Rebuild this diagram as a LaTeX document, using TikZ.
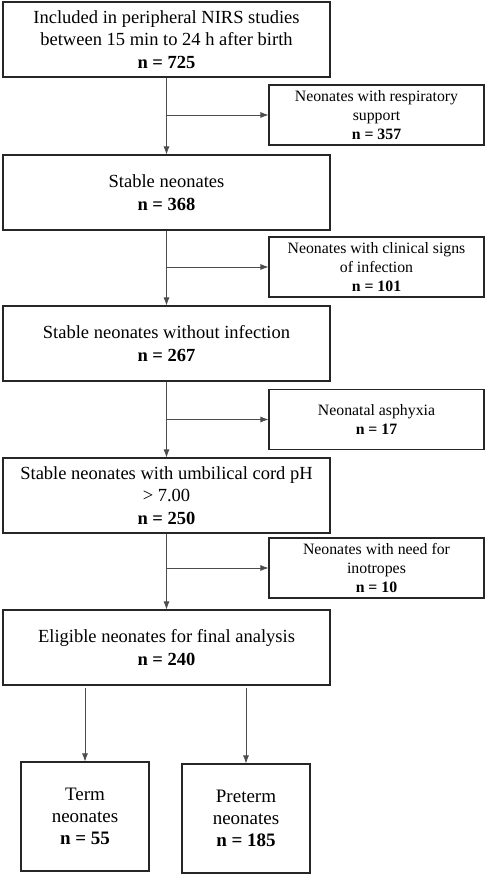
\documentclass[tikz,border=0pt]{standalone}
\usepackage{fontspec}
\setmainfont{Liberation Serif}
\usetikzlibrary{arrows.meta}
\begin{document}
\begin{tikzpicture}[x=1pt,y=-1pt,
  mainbox/.style={draw=black!85, line width=1.1pt, inner sep=0pt, align=center,
    minimum width=327pt, minimum height=75pt, font=\fontsize{18.5}{22.5}\selectfont},
  sidebox/.style={draw=black!85, line width=1.1pt, inner sep=0pt, align=center,
    minimum width=215pt, minimum height=60pt, font=\fontsize{15.8}{19}\selectfont},
  endbox/.style={draw=black!85, line width=1.1pt, inner sep=0pt, align=center,
    minimum width=128pt, minimum height=109pt, font=\fontsize{19}{22}\selectfont},
  flow/.style={draw=black!70, line width=0.8pt, -{Latex[length=8pt,width=6pt]}}
]
\useasboundingbox (0,0) rectangle (486,875);
\node[mainbox] (b1) at (166.5,39.5) {Included in peripheral NIRS studies\\between 15 min to 24 h after birth\\\textbf{n = 725}};
\node[mainbox] (b2) at (166.5,192.5) {Stable neonates\\\textbf{n = 368}};
\node[mainbox] (b3) at (166.5,343.5) {Stable neonates without infection\\\textbf{n = 267}};
\node[mainbox] (b4) at (166.5,495.5) {Stable neonates with umbilical cord pH\\> 7.00\\\textbf{n = 250}};
\node[mainbox] (b5) at (166.5,647.5) {Eligible neonates for final analysis\\\textbf{n = 240}};
\node[sidebox] (s1) at (376.5,115) {Neonates with respiratory\\support\\\textbf{n = 357}};
\node[sidebox] (s2) at (376.5,267) {Neonates with clinical signs\\of infection\\\textbf{n = 101}};
\node[sidebox] (s3) at (376.5,419.5) {Neonatal asphyxia\\\textbf{n = 17}};
\node[sidebox] (s4) at (376.5,568) {Neonates with need for\\inotropes\\\textbf{n = 10}};
\node[endbox] (t1) at (85,816.5) {Term\\neonates\\\textbf{n = 55}};
\node[endbox] (t2) at (246,818.5) {Preterm\\neonates\\\textbf{n = 185}};
\draw[flow] (b1.south) -- (b2.north);
\draw[flow] (b2.south) -- (b3.north);
\draw[flow] (b3.south) -- (b4.north);
\draw[flow] (b4.south) -- (b5.north);
\draw[flow] (s1.west -| b1.south) -- (s1.west);
\draw[flow] (s2.west -| b2.south) -- (s2.west);
\draw[flow] (s3.west -| b3.south) -- (s3.west);
\draw[flow] (s4.west -| b4.south) -- (s4.west);
\coordinate (c1) at ([yshift=-2pt]b5.south -| t1.north);
\coordinate (c2) at ([yshift=-2pt]b5.south -| t2.north);
\draw[flow] (c1) -- (t1.north);
\draw[flow] (c2) -- (t2.north);
\end{tikzpicture}
\end{document}
